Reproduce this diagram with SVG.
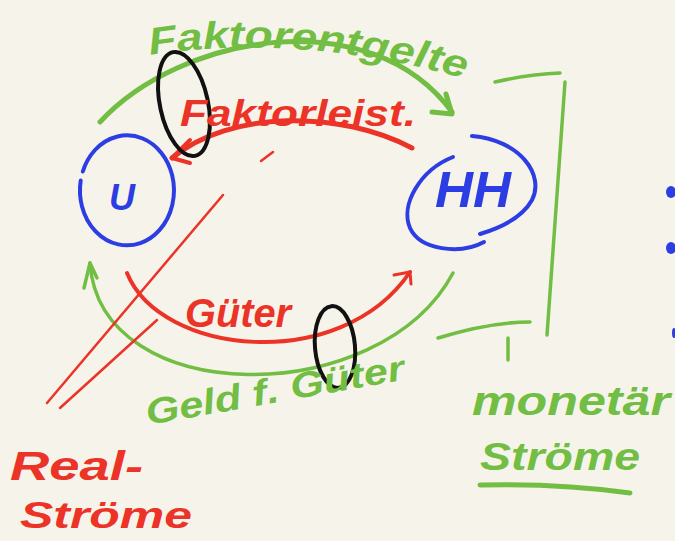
<svg xmlns="http://www.w3.org/2000/svg" width="675" height="541" viewBox="0 0 675 541">
  <style>
    .g{stroke:#72bd43;fill:none;stroke-linecap:round;stroke-linejoin:round}
    .r{stroke:#ec3327;fill:none;stroke-linecap:round;stroke-linejoin:round}
    .b{stroke:#2b3de3;fill:none;stroke-linecap:round;stroke-linejoin:round;stroke-width:4}
    .k{stroke:#111;fill:none;stroke-width:4}
    .t{font-family:"Liberation Sans","DejaVu Sans",sans-serif;font-style:italic;font-weight:bold}
    .tg{fill:#72bd43}.tr{fill:#ec3327}.tb{fill:#2b3de3}
  </style>
  <defs>
    <path id="topPath" d="M150,55 Q300,32 470,80"/>
  </defs>
  <rect width="675" height="541" fill="#f6f4ea"/>

  <g id="node-U">
    <path class="b" d="M82.8,171.5 A47,55 0 1 1 80.7,180.6"/>
    <text class="t tb" x="109" y="210" font-size="36">U</text>
  </g>

  <g id="node-HH">
    <path class="b" d="M472,136 C520,140 545,175 532,200 C522,218 500,228 480,234"/>
    <path class="b" d="M453,157 C420,170 400,205 410,228 C420,250 460,255 484,242"/>
    <text class="t tb" x="435" y="207" font-size="50" textLength="76" lengthAdjust="spacingAndGlyphs">HH</text>
  </g>

  <g id="connectors">
    <path class="g" stroke-width="5" d="M100,122 C180,35 370,0 452,112"/>
    <path class="g" stroke-width="5" d="M432,112 L452,114 L446,94"/>
    <path class="r" stroke-width="5" d="M412,148 C340,110 230,110 172,158"/>
    <path class="r" stroke-width="4" d="M190,140 L172,158 L190,163"/>
    <path class="r" stroke-width="4" d="M127,273 C160,355 340,375 410,272"/>
    <path class="r" stroke-width="3" d="M394,275 L410,272 L411,284"/>
    <path class="g" stroke-width="3.5" d="M90,263 C100,410 380,410 453,273"/>
    <path class="g" stroke-width="3.5" d="M84,288 L90,263 L97,278"/>
    <path class="r" stroke-width="2.5" d="M47,403 L223,195"/>
    <path class="r" stroke-width="2.5" d="M60,408 L157,320"/>
    <path class="r" stroke-width="2.5" d="M261,161 L273,152"/>
  </g>

  <g id="marks">
    <ellipse class="k" cx="184" cy="104" rx="24" ry="53" transform="rotate(-12 184 104)"/>
    <ellipse class="k" cx="335" cy="347" rx="20" ry="41" transform="rotate(-5 335 347)"/>
  </g>

  <g id="bracket">
    <path class="g" stroke-width="3.5" d="M495,82 Q530,74 560,73"/>
    <path class="g" stroke-width="3.5" d="M565,82 L547,335"/>
    <path class="g" stroke-width="3.5" d="M438,338 Q490,322 530,322"/>
    <path class="g" stroke-width="3.5" d="M508,338 L508,360"/>
  </g>

  <g id="labels">
    <text class="t tg" font-size="38"><textPath href="#topPath" textLength="318" lengthAdjust="spacingAndGlyphs">Faktorentgelte</textPath></text>
    <text class="t tr" x="180" y="126" font-size="36" textLength="236" lengthAdjust="spacingAndGlyphs">Faktorleist.</text>
    <text class="t tr" x="185" y="327" font-size="40" textLength="106" lengthAdjust="spacingAndGlyphs">Güter</text>
    <text class="t tg" x="148" y="425" font-size="36" textLength="262" lengthAdjust="spacingAndGlyphs" transform="rotate(-10 148 425)">Geld f. Güter</text>
    <text class="t tr" x="10" y="480" font-size="40" textLength="133" lengthAdjust="spacingAndGlyphs">Real-</text>
    <text class="t tr" x="20" y="528" font-size="36" textLength="172" lengthAdjust="spacingAndGlyphs">Ströme</text>
    <text class="t tg" x="472" y="415" font-size="40" textLength="198" lengthAdjust="spacingAndGlyphs">monetär</text>
    <text class="t tg" x="480" y="470" font-size="38" textLength="160" lengthAdjust="spacingAndGlyphs">Ströme</text>
    <path class="g" stroke-width="5" d="M480,485 Q560,483 630,493"/>
  </g>

  <g id="edge-marks" fill="#2b3de3">
    <ellipse cx="671" cy="192" rx="5" ry="6"/>
    <ellipse cx="671" cy="248" rx="5" ry="6"/>
    <ellipse cx="674" cy="333" rx="2" ry="5"/>
  </g>
</svg>
